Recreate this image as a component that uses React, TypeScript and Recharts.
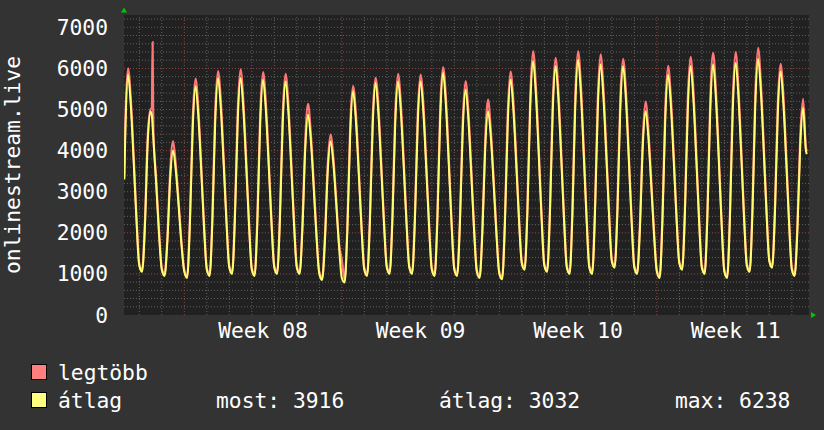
import { LineChart, Line, XAxis, YAxis, CartesianGrid, ReferenceLine, ReferenceDot, Legend } from 'recharts';

const FONT = '"DejaVu Sans Mono", monospace';
const FONT_SIZE = 21.3;

// time axis: hours since Thursday 00:00 before the first full day, one sample every 3 hours
const slotHours = [0, 3, 6, 9, 12, 15, 18, 21];
const hours: number[] = [
  8, 9, 12, 15, 18, 21,
  24, 27, 30, 33, 36, 37.4, 38.2, 39, 42, 45,
  ...Array.from({ length: 28 }, (_, i) => slotHours.map((h) => (i + 2) * 24 + h)).flat(),
  720, 723, 726, 729, 732, 735, 736,
];

// legtöbb (max)
const legtobb = [
  3350, 4600, 6000, 5250, 3880, 2400,
  1250, 1100, 2270, 4350, 5000, 5050, 6640, 4480, 3320, 2070,
  1150, 1000, 1910, 3500, 4230, 3640, 2750, 1780,
  1100, 950, 2340, 4770, 5750, 5020, 3680, 2240,
  1150, 1000, 2440, 4950, 5935, 5210, 3820, 2330,
  1200, 1050, 2480, 4960, 5975, 5200, 3800, 2290,
  1150, 1000, 2430, 4910, 5910, 5170, 3800, 2320,
  1200, 1050, 2450, 4890, 5870, 5140, 3780, 2310,
  1200, 1050, 2220, 4230, 5140, 4410, 3230, 1980,
  1050, 900, 1910, 3660, 4390, 3830, 2830, 1750,
  1350, 840, 2230, 4640, 5570, 4920, 3610, 2200,
  1150, 1000, 2410, 4850, 5770, 5110, 3740, 2300,
  1200, 1050, 2450, 4890, 5870, 5140, 3780, 2310,
  1200, 1050, 2450, 4890, 5850, 5130, 3740, 2270,
  1150, 1000, 2480, 5050, 6030, 5310, 3870, 2330,
  1150, 1000, 2350, 4710, 5690, 4950, 3610, 2170,
  1100, 950, 2160, 4270, 5240, 4480, 3290, 2010,
  1050, 920, 2360, 4890, 5920, 5190, 3840, 2390,
  1300, 1150, 2670, 5310, 6420, 5570, 4080, 2480,
  1250, 1100, 2600, 5210, 6260, 5460, 3980, 2410,
  1200, 1050, 2610, 5320, 6420, 5610, 4080, 2450,
  1200, 1050, 2580, 5230, 6340, 5520, 4080, 2540,
  1350, 1200, 2680, 5230, 6235, 5460, 3980, 2410,
  1200, 1050, 2240, 4290, 5190, 4480, 3300, 2040,
  1100, 950, 2430, 5000, 6060, 5290, 3910, 2430,
  1300, 1150, 2640, 5220, 6280, 5460, 3980, 2410,
  1200, 1050, 2580, 5230, 6380, 5480, 3960, 2340,
  1100, 950, 2510, 5240, 6400, 5540, 4060, 2460,
  1250, 1100, 2650, 5350, 6500, 5640, 4160, 2570,
  1350, 1200, 2640, 5120, 6110, 5340, 3890, 2340,
  1150, 1000, 2230, 4350, 5260, 4080, 3980,
];

// átlag (average)
const atlag = [
  3300, 4300, 5850, 5080, 3740, 2300,
  1200, 1050, 2140, 4200, 4950, 4850, 4600, 4310, 3190, 1990,
  1100, 950, 1800, 3330, 4000, 3500, 2640, 1710,
  1050, 900, 2210, 4540, 5570, 4830, 3540, 2150,
  1100, 950, 2300, 4710, 5770, 5010, 3670, 2240,
  1150, 1000, 2340, 4720, 5770, 5000, 3650, 2200,
  1100, 950, 2290, 4680, 5730, 4970, 3650, 2230,
  1150, 1000, 2310, 4660, 5690, 4940, 3630, 2220,
  1150, 1000, 2090, 4030, 4880, 4240, 3110, 1900,
  1000, 850, 1800, 3490, 4230, 3680, 2720, 1680,
  900, 790, 2100, 4420, 5450, 4730, 3470, 2120,
  1100, 950, 2270, 4620, 5650, 4910, 3600, 2210,
  1150, 1000, 2310, 4660, 5690, 4940, 3630, 2220,
  1150, 1000, 2310, 4660, 5690, 4930, 3600, 2180,
  1100, 950, 2340, 4810, 5900, 5110, 3720, 2240,
  1100, 950, 2220, 4490, 5490, 4760, 3470, 2090,
  1050, 900, 2040, 4070, 4960, 4310, 3160, 1930,
  1000, 870, 2230, 4660, 5730, 4990, 3690, 2300,
  1250, 1100, 2520, 5060, 6180, 5360, 3920, 2380,
  1200, 1050, 2450, 4960, 6060, 5250, 3830, 2320,
  1150, 1000, 2460, 5070, 6220, 5390, 3920, 2360,
  1150, 1000, 2430, 4980, 6100, 5310, 3920, 2440,
  1300, 1150, 2530, 4980, 6060, 5250, 3830, 2320,
  1150, 1000, 2110, 4090, 4960, 4310, 3170, 1960,
  1050, 900, 2290, 4760, 5850, 5090, 3760, 2340,
  1250, 1100, 2490, 4970, 6060, 5250, 3830, 2320,
  1150, 1000, 2430, 4980, 6100, 5270, 3810, 2250,
  1050, 900, 2370, 4990, 6140, 5330, 3900, 2370,
  1200, 1050, 2500, 5100, 6238, 5420, 4000, 2470,
  1300, 1150, 2490, 4880, 5930, 5130, 3740, 2250,
  1100, 950, 2100, 4140, 5040, 4000, 3916,
];

const weekTicks = [156, 324, 492, 660];
const weekLabels = ['Week 08', 'Week 09', 'Week 10', 'Week 11'];
const weekStarts = [72, 240, 408, 576];
const midnights = Array.from({ length: 30 }, (_, i) => (i + 1) * 24).filter((h) => !weekStarts.includes(h));
const yTicks = [0, 1000, 2000, 3000, 4000, 5000, 6000, 7000];
const yMinor = Array.from({ length: 36 }, (_, i) => (i + 1) * 200).filter((v) => v % 1000 !== 0);

const seriesNames = ['legtöbb', 'átlag'];
const atlagStats = [
  ['most', '3916'],
  ['átlag', '3032'],
  ['max', '6238'],
];

const X_DOMAIN: [number, number] = [7.7, 738.3];
const Y_DOMAIN: [number, number] = [0, 7300];
const RED = '#ff7878';
const YELLOW = '#ffff70';
const BOX = ['#ff7f7f', '#ffff7f'];
const MINOR_GRID = '#626262';
const MAJOR_GRID = '#9a4242';

const data = hours.map((t, i) => ({ t, legtobb: legtobb[i], atlag: atlag[i] }));

const YTitle = ({ viewBox }: any) => {
  const cx = viewBox.x - 12;
  const cy = viewBox.y + viewBox.height / 2;
  return (
    <text
      x={cx}
      y={cy}
      transform={`rotate(-90 ${cx} ${cy})`}
      textAnchor="middle"
      dominantBaseline="central"
      fill="#ffffff"
      fontFamily={FONT}
      fontSize={FONT_SIZE}
    >
      onlinestream.live
    </text>
  );
};

const UpArrow = ({ cx, cy }: any) => (
  <polygon points={`${cx - 3},${cy - 2.5} ${cx + 3},${cy - 2.5} ${cx},${cy - 7.5}`} fill="#00c800" />
);
const RightArrow = ({ cx, cy }: any) => (
  <polygon points={`${cx + 2},${cy - 3} ${cx + 2},${cy + 3} ${cx + 7},${cy}`} fill="#00c800" />
);

const statLeft = [216, 439, 675];

const renderLegend = () => (
  <div style={{ position: 'relative', width: 824, height: 60, fontFamily: FONT, fontSize: FONT_SIZE, lineHeight: '28px', color: '#fff' }}>
    {seriesNames.map((name, i) => (
      <div key={name}>
        <span
          style={{
            position: 'absolute', left: 31, top: 5 + i * 28, width: 14, height: 14,
            background: BOX[i], border: '1px solid #000',
          }}
        />
        <span style={{ position: 'absolute', left: 58, top: i * 28, whiteSpace: 'pre' }}>{name}</span>
      </div>
    ))}
    {atlagStats.map(([k, v], i) => (
      <span key={k} style={{ position: 'absolute', left: statLeft[i], top: 28, whiteSpace: 'pre' }}>{`${k}: ${v}`}</span>
    ))}
  </div>
);

export default function App() {
  return (
    <div style={{ position: 'absolute', left: 0, top: 0, width: 824, height: 430, background: '#333333' }}>
      <LineChart width={824} height={430} data={data} margin={{ top: 15, right: 15, left: 24, bottom: 85 }}>
        <CartesianGrid horizontal={false} vertical={false} fill="#212121" stroke="none" />
        {yMinor.map((v) => (
          <ReferenceLine key={`ym${v}`} y={v} stroke={MINOR_GRID} strokeDasharray="1 2" zIndex={-40} />
        ))}
        {midnights.map((h) => (
          <ReferenceLine key={`xm${h}`} x={h} stroke={MINOR_GRID} strokeDasharray="1 2" zIndex={-40} />
        ))}
        {yTicks.slice(1).map((v) => (
          <ReferenceLine key={`yM${v}`} y={v} stroke={MAJOR_GRID} strokeDasharray="1 2" zIndex={-30} />
        ))}
        {weekStarts.map((h) => (
          <ReferenceLine key={`xM${h}`} x={h} stroke={MAJOR_GRID} strokeDasharray="1 2" zIndex={-30} />
        ))}
        <XAxis
          type="number"
          dataKey="t"
          domain={X_DOMAIN}
          allowDataOverflow
          ticks={weekTicks}
          tickFormatter={(v: number) => weekLabels[weekTicks.indexOf(v)]}
          axisLine={false}
          tickLine={false}
          tickSize={0}
          tickMargin={8}
          height={30}
          interval={0}
          tick={{ fill: '#ffffff', fontSize: FONT_SIZE, fontFamily: FONT }}
        />
        <YAxis
          type="number"
          domain={Y_DOMAIN}
          allowDataOverflow
          ticks={yTicks}
          axisLine={false}
          tickLine={false}
          tickSize={0}
          tickMargin={16}
          width={100}
          interval={0}
          tick={{ fill: '#ffffff', fontSize: FONT_SIZE, fontFamily: FONT }}
          label={<YTitle />}
        />
        <Legend
          layout="horizontal"
          verticalAlign="middle"
          align="center"
          wrapperStyle={{ left: 0, top: 359, width: 824, height: 60 }}
          content={renderLegend}
        />
        <Line
          type="monotone"
          dataKey="legtobb"
          name={seriesNames[0]}
          stroke={RED}
          strokeWidth={2.2}
          dot={false}
          activeDot={false}
          isAnimationActive={false}
        />
        <Line
          type="monotone"
          dataKey="atlag"
          name={seriesNames[1]}
          stroke={YELLOW}
          strokeWidth={2}
          dot={false}
          activeDot={false}
          isAnimationActive={false}
        />
        <ReferenceDot x={X_DOMAIN[0]} y={Y_DOMAIN[1]} ifOverflow="visible" shape={UpArrow} />
        <ReferenceDot x={X_DOMAIN[1]} y={Y_DOMAIN[0]} ifOverflow="visible" shape={RightArrow} />
      </LineChart>
    </div>
  );
}
